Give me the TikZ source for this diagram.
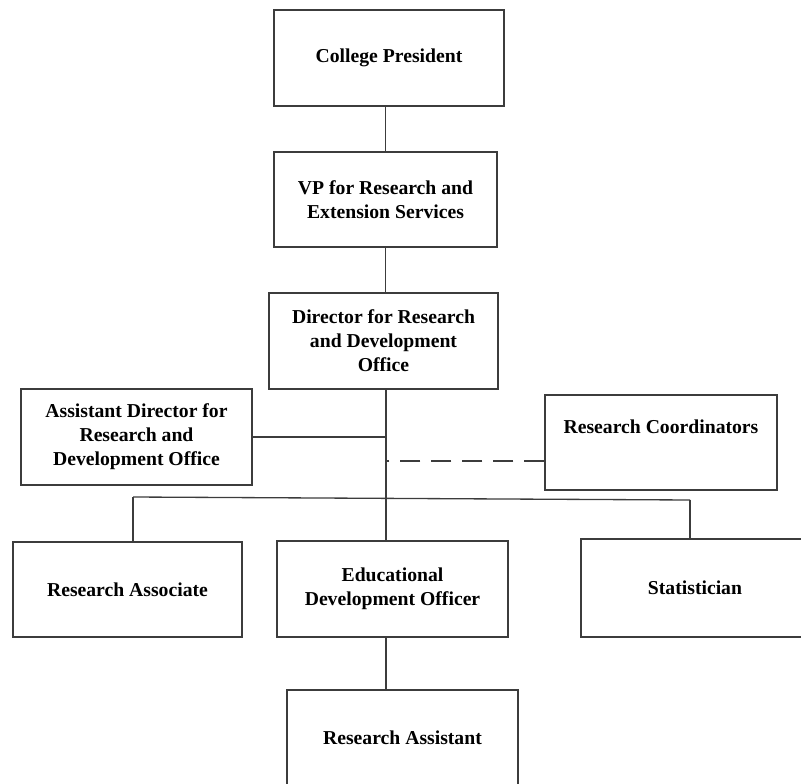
\documentclass[tikz,border=0pt]{standalone}
\usepackage{fontspec}
\setmainfont{Liberation Serif}
\begin{document}
\begin{tikzpicture}[
  orgbox/.style={shape=rectangle,draw=orgline,line width=0.75pt,align=center,
    font=\fontsize{11.2}{13.6}\selectfont\bfseries,minimum width=4.6cm,minimum height=1.92cm},
  orglink/.style={draw=orgline,line width=0.75pt}]
\definecolor{orgline}{RGB}{60,60,60}
\useasboundingbox (0,0) rectangle (16.02,15.66);
\node[orgbox,minimum width=4.6cm] (pres) at (7.78,14.50) {College President};
\node[orgbox,minimum width=4.46cm,minimum height=1.9cm] (vp) at (7.71,11.67) {VP for Research and\\Extension Services};
\node[orgbox,minimum width=4.58cm] (dir) at (7.67,8.84) {Director for Research\\and Development\\Office};
\node[orgbox,minimum width=4.62cm] (asst) at (2.73,6.92) {Assistant Director for\\Research and\\Development Office};
\node[orgbox,minimum width=4.64cm,minimum height=1.9cm] (coord) at (13.22,6.81) {Research Coordinators\\\strut};
\node[orgbox,minimum width=4.58cm,minimum height=1.9cm] (assoc) at (2.55,3.87) {Research Associate};
\node[orgbox,minimum width=4.62cm] (edo) at (7.85,3.88) {Educational\\Development Officer};
\node[orgbox,minimum width=4.56cm,minimum height=1.96cm] (stat) at (13.90,3.90) {Statistician};
\node[orgbox,minimum width=4.62cm] (rasst) at (8.05,0.90) {Research Assistant};
% trunk and bus
\coordinate (trunk) at (7.72,6.92);
\coordinate (busl) at (2.66,5.72);
\coordinate (busr) at (13.80,5.66);
\draw[orglink] (vp.north) to (vp.north |- pres.south);
\draw[orglink] (dir.north -| vp.north) to (vp.south);
\draw[orglink] (dir.south -| trunk) to (edo.north -| trunk);
\draw[orglink] (asst.east) to (trunk);
\draw[orglink,dash pattern=on 0.4cm off 0.22cm] (coord.west |- 0,6.44) to (trunk |- 0,6.44);
\draw[orglink] (busl) to (busr);
\draw[orglink] (busl) to (busl |- assoc.north);
\draw[orglink] (busr) to (busr |- stat.north);
\draw[orglink] (edo.south -| trunk) to (rasst.north -| trunk);
\end{tikzpicture}
\end{document}
